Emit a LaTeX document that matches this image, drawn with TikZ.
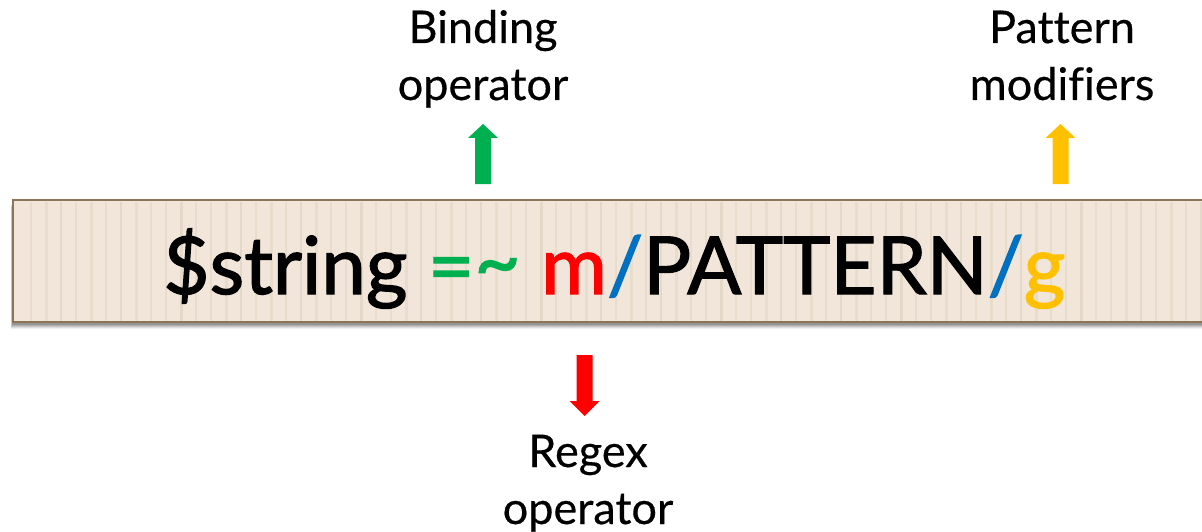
\documentclass[tikz,border=0pt]{standalone}
\usepackage{fontspec}
\setmainfont{Lato}[Ligatures=NoCommon]
\newfontfamily\codefont{Lato}[FakeBold=1.6,Ligatures=NoCommon]
\newfontfamily\labelfont{Lato}[FakeBold=0.4,Ligatures=NoCommon]
\usetikzlibrary{calc}
\definecolor{barfill}{HTML}{F1E6D9}
\definecolor{barstripe}{HTML}{E4D8C8}
\definecolor{baredge}{HTML}{8C7556}
\definecolor{opgreen}{HTML}{00B050}
\definecolor{opred}{HTML}{FF0000}
\definecolor{opyellow}{HTML}{FFC000}
\definecolor{opblue}{HTML}{0070C0}
\tikzset{
  label text/.style={font=\labelfont\fontsize{45}{57}\selectfont, align=center, text=black, inner sep=0pt},
  code text/.style={font=\codefont\fontsize{80}{80}\selectfont, inner sep=0pt},
}
% block arrow: shaft width 16, head width 30, head length 15
\newcommand{\blockarrowup}[4]{% x, tip y, bottom y, colour
  \fill[#4] (#1-15,#2+14) -- (#1,#2) -- (#1+15,#2+14) -- (#1+8,#2+14) -- (#1+8,#3) -- (#1-8,#3) -- (#1-8,#2+14) -- cycle;}
\newcommand{\blockarrowdown}[4]{% x, top y, tip y, colour
  \fill[#4] (#1-15,#3-15) -- (#1,#3) -- (#1+15,#3-15) -- (#1+8,#3-15) -- (#1+8,#2) -- (#1-8,#2) -- (#1-8,#3-15) -- cycle;}
\begin{document}
\begin{tikzpicture}[x=1pt,y=-1pt]
  \useasboundingbox (0,0) rectangle (1202,532);
  % soft drop shadow under the bar
  \foreach \o/\a in {7/0.06,6/0.08,5/0.10,4/0.12,3/0.14} {
    \fill[black,opacity=\a] (13-\o/3,200+\o) rectangle (1210,322+\o);
  }
  % textured bar
  \fill[barfill] (13,200) rectangle (1210,322);
  \foreach \i in {0,...,79} {
    \pgfmathsetmacro{\xx}{30+15*\i}
    \pgfmathsetmacro{\ww}{mod(\i,3)==1 ? 3.2 : 2.2}
    \pgfmathsetmacro{\aa}{mod(\i,4)==2 ? 1 : 0.65}
    \ifdim\xx pt<1202pt
      \fill[barstripe,opacity=\aa] (\xx,201.5) rectangle ++(\ww,119);
    \fi
  }
  \draw[baredge,line width=2.2pt] (13,200) rectangle (1215,322);

  % the matching expression
  \node[code text, anchor=base west] (code) at (163,294)
    {\$string \textcolor{opgreen}{=\raisebox{0.06em}{\textasciitilde}} \textcolor{opred}{m}\textcolor{opblue}{/}PATTERN\textcolor{opblue}{/}\textcolor{opyellow}{g}};

  % labels (anchored on the baseline of their last line)
  \node[label text, anchor=base] (bind) at (483,100) {Binding\\operator};
  \node[label text, anchor=base] (mods) at (1062,100) {Pattern\\modifiers};
  \node[label text, anchor=base] (regex) at (588,524) {Regex\\operator};

  % arrows
  \blockarrowup{483}{124}{184}{opgreen}
  \blockarrowup{1060.5}{124}{184}{opyellow}
  \blockarrowdown{584.5}{355}{416}{opred}
\end{tikzpicture}
\end{document}
